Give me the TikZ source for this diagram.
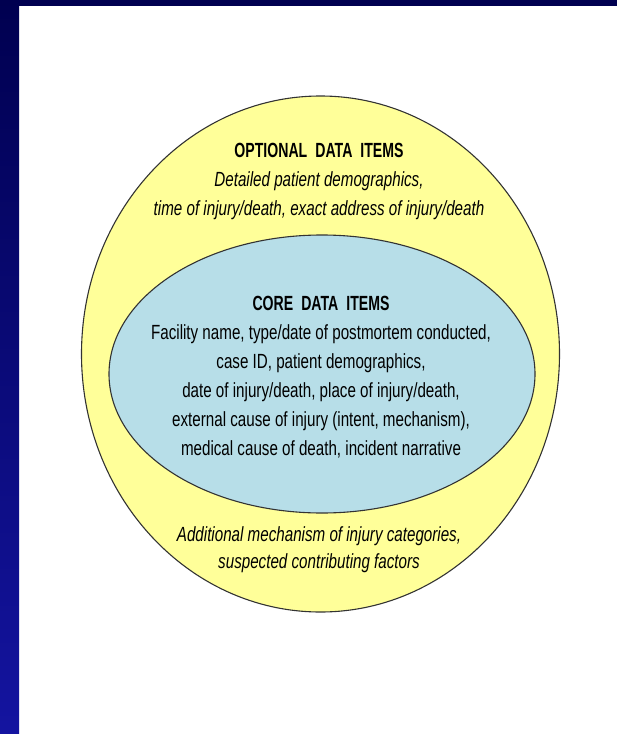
\documentclass[tikz,border=0pt]{standalone}
\usepackage{fontspec}
\usetikzlibrary{shapes.geometric}
\setmainfont{Liberation Sans}[FakeStretch=0.74]
\definecolor{navytop}{HTML}{000050}
\definecolor{navybot}{HTML}{1414A0}
\definecolor{outeryellow}{HTML}{FFFF99}
\definecolor{innerblue}{HTML}{B7DEE8}
\definecolor{edgegray}{HTML}{333333}
\newcommand{\hgap}{\hspace{0.42em}}
\newcommand{\headtxt}[1]{\scalebox{0.93}[1]{\textbf{#1}}}
\tikzset{
  ring/.style={draw=edgegray, line width=1.1pt},
  blocktext/.style={align=center, inner sep=0pt, text=black},
}
\begin{document}
\begin{tikzpicture}[x=1pt,y=-1pt]
\useasboundingbox (0,0) rectangle (617,734);
\fill[white] (0,0) rectangle (617,734);
\shade[top color=navytop, bottom color=navybot] (0,0) rectangle (19,734);
\fill[navytop] (0,0) rectangle (617,6);
\node[ring, fill=outeryellow, ellipse, minimum width=478pt, minimum height=516pt, inner sep=0pt] (outer) at (320.5,354) {};
\node[ring, fill=innerblue, ellipse, minimum width=426pt, minimum height=278pt, inner sep=0pt] (inner) at (322,374) {};
\node[blocktext, font=\fontsize{20.5}{29}\selectfont] (opt) at (319,181)
  {\headtxt{OPTIONAL\hgap DATA\hgap ITEMS}\\
   \textit{Detailed patient demographics,}\\
   \textit{time of injury/death, exact address of injury/death}};
\node[blocktext, font=\fontsize{20.5}{29}\selectfont] (core) at (321,377)
  {\headtxt{CORE\hgap DATA\hgap ITEMS}\\
   Facility name, type/date of postmortem conducted,\\
   case ID, patient demographics,\\
   date of injury/death, place of injury/death,\\
   external cause of injury (intent, mechanism),\\
   medical cause of death, incident narrative};
\node[blocktext, font=\fontsize{20.5}{27}\selectfont] (add) at (319,549.5)
  {\textit{Additional mechanism of injury categories,}\\
   \textit{suspected contributing factors}};
\end{tikzpicture}
\end{document}
